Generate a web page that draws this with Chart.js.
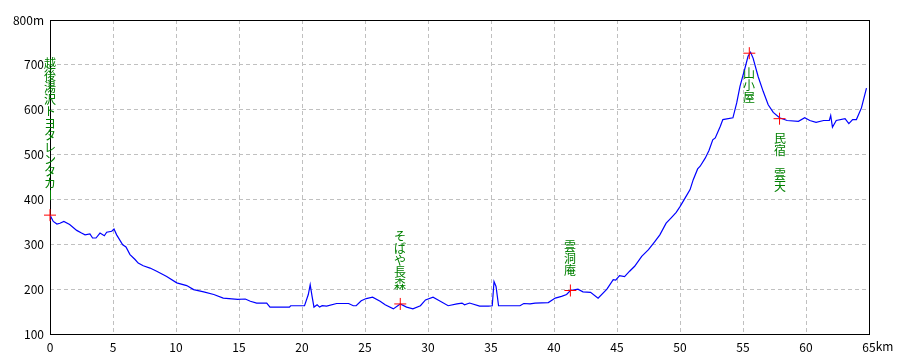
<!DOCTYPE html>
<html>
<head>
<meta charset="utf-8">
<script src="https://cdn.jsdelivr.net/npm/chart.js@4.4.1/dist/chart.umd.min.js"></script>
<style>
  body { margin: 0; background: #fff; }
  #wrap { width: 910px; height: 364px; }
</style>
</head>
<body>
<div id="wrap"><canvas id="chart" width="910" height="364"></canvas></div>
<script>
// elevation profile (km, m)
const distKm = [0, 0.26, 0.55, 0.79, 1.1, 1.56, 2.12, 2.5, 2.78, 3.17, 3.38, 3.65, 3.97, 4.31, 4.5, 4.9, 5.08, 5.29, 5.77, 6.03,
  6.35, 6.75, 7.0, 7.4, 7.94, 8.47, 9.26, 10.06, 10.85, 11.4, 12.2, 13.0, 13.75, 14.9, 15.5, 15.9, 16.4, 17.2, 17.46, 19.0,
  19.1, 20.2, 20.5, 20.65, 20.8, 20.95, 21.2, 21.4, 21.6, 21.95, 22.75, 23.7, 24.07, 24.3, 24.7, 25.1, 25.6, 26.2, 26.6, 27.25,
  27.8, 28.3, 28.8, 29.4, 29.8, 30.4, 30.8, 31.6, 32.3, 32.7, 32.9, 33.3, 34.1, 34.8, 35.1, 35.24, 35.4, 35.6, 37.3, 37.6,
  38.1, 38.5, 39.55, 40.1, 40.6, 41.0, 41.3, 41.9, 42.3, 42.9, 43.5, 44.2, 44.7, 44.9, 45.2, 45.6, 46.0, 46.4, 46.96, 47.5,
  48.0, 48.4, 48.9, 49.3, 49.7, 50.0, 50.4, 50.8, 51.05, 51.4, 51.6, 52.0, 52.3, 52.6, 52.8, 53.2, 53.4, 54.2, 54.5, 54.76,
  55.16, 55.4, 55.6, 55.8, 56.2, 56.6, 57.0, 57.4, 57.9, 58.5, 59.4, 59.9, 60.3, 60.8, 61.4, 61.85, 61.96, 62.1, 62.4, 63.1,
  63.4, 63.7, 64.0, 64.4, 64.8];
const elevM = [365, 351, 345, 347, 351, 344, 331, 325, 321, 323, 314, 314, 325, 319, 327, 329, 334, 321, 299, 294,
  277, 266, 258, 252, 247, 240, 228, 214, 208, 199, 194, 188, 180, 177, 178, 173, 169, 169, 160, 160,
  163, 163, 188, 210, 184, 160, 165, 160, 163, 162, 168, 168, 163, 163, 174, 179, 182, 173, 165, 156,
  167, 160, 156, 163, 176, 182, 176, 163, 167, 169, 165, 169, 162, 162, 163, 217, 206, 163, 163, 168,
  167, 169, 170, 180, 184, 188, 197, 200, 194, 193, 180, 200, 221, 220, 230, 228, 240, 251, 273, 288,
  306, 321, 347, 359, 371, 384, 403, 422, 444, 468, 474, 492, 509, 533, 537, 563, 578, 582, 615, 652,
  693, 719, 728, 715, 674, 641, 611, 594, 582, 576, 574, 582, 576, 572, 576, 576, 587, 561, 576, 580,
  569, 578, 578, 604, 648];

// waypoints
const spotNames = ['越後湯沢トヨタレンタカー', 'そばや長森', '雲洞庵', '山小屋', '民宿　雲天'];
const spotKm = [0, 27.8, 41.3, 55.5, 57.9];
const spotElev = [365, 167, 197, 726, 580];
const spotSide = ['up', 'up', 'up', 'down', 'down'];

// axes
const xRange = [0, 65];
const xStep = 5;
const yRange = [100, 800];
const yStep = 100;

const FONT = "'Noto Sans CJK JP', 'DejaVu Sans', sans-serif";

const framePlugin = {
  id: 'frame',
  beforeDatasetsDraw(chart) {
    const a = chart.chartArea, ctx = chart.ctx;
    ctx.save();
    ctx.strokeStyle = '#000';
    ctx.lineWidth = 1;
    ctx.strokeRect(a.left + 0.5, a.top + 0.5, a.right - a.left, a.bottom - a.top);
    ctx.restore();
  }
};

const labelPlugin = {
  id: 'spotLabels',
  afterDraw(chart) {
    const ctx = chart.ctx;
    const xs = chart.scales.x, ys = chart.scales.y;
    ctx.save();
    ctx.fillStyle = '#008000';
    ctx.font = '12px ' + FONT;
    ctx.textAlign = 'center';
    ctx.textBaseline = 'top';
    spotNames.forEach((name, i) => {
      const chars = Array.from(name);
      const cx = Math.round(xs.getPixelForValue(spotKm[i]));
      const py = ys.getPixelForValue(spotElev[i]);
      const h = chars.length * 12;
      let y = spotSide[i] === 'up' ? py - 14 - h : py + 14;
      chars.forEach(c => {
        if (c === 'ー') {
          ctx.fillRect(cx, y + 1, 1, 10);
        } else {
          ctx.fillText(c, cx, y);
        }
        y += 12;
      });
    });
    // unit after last x tick
    ctx.fillStyle = '#000';
    ctx.textAlign = 'left';
    const last = String(xRange[1]);
    const lx = xs.getPixelForValue(xRange[1]) + ctx.measureText(last).width / 2;
    ctx.fillText('km', lx, xs.top + 6);
    ctx.restore();
  }
};

new Chart(document.getElementById('chart'), {
  type: 'scatter',
  data: {
    datasets: [
      {
        data: spotKm.map((x, i) => ({ x, y: spotElev[i] })),
        pointStyle: 'cross',
        pointRadius: 6,
        pointBorderColor: '#ff0000',
        pointBorderWidth: 1,
        showLine: false,
        clip: false,
        order: 0
      },
      {
        data: distKm.map((x, i) => ({ x, y: elevM[i] })),
        showLine: true,
        borderColor: '#0000ff',
        borderWidth: 1.2,
        pointRadius: 0,
        tension: 0,
        order: 1
      }
    ]
  },
  options: {
    responsive: false,
    animation: false,
    layout: { padding: { top: 20, right: 41, left: 0, bottom: 0 } },
    plugins: { legend: { display: false }, tooltip: { enabled: false } },
    scales: {
      x: {
        type: 'linear',
        min: xRange[0], max: xRange[1],
        afterFit: s => { s.height = 30; },
        grid: { color: '#c0c0c0', drawTicks: false },
        border: { display: false, dash: [4, 3] },
        ticks: {
          stepSize: xStep, padding: 6, color: '#000', maxRotation: 0,
          font: { family: FONT, size: 12 }
        }
      },
      y: {
        min: yRange[0], max: yRange[1],
        afterFit: s => { s.width = 50; },
        grid: { color: '#c0c0c0', drawTicks: false },
        border: { display: false, dash: [4, 3] },
        ticks: {
          stepSize: yStep, padding: 6, color: '#000',
          font: { family: FONT, size: 12 },
          callback: v => v === yRange[1] ? v + 'm' : v
        }
      }
    }
  },
  plugins: [framePlugin, labelPlugin]
});
</script>
</body>
</html>
